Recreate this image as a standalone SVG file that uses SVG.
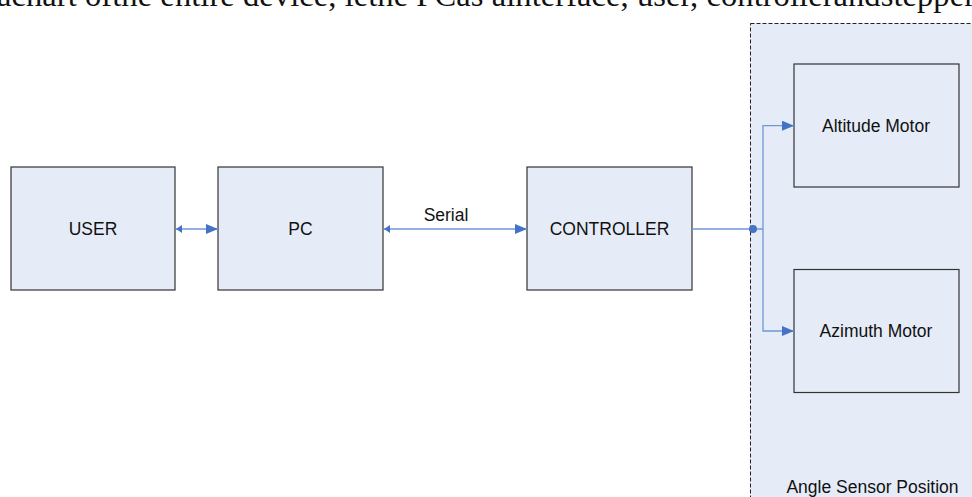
<svg xmlns="http://www.w3.org/2000/svg" width="972" height="497" viewBox="0 0 972 497">
<style>
.node{fill:#e6ecf7;stroke:#333;stroke-width:1.2}
.lbl{font-family:"Liberation Sans",Arial,sans-serif;font-size:17.5px;fill:#111;text-anchor:middle}
.line{fill:none;stroke:#6f97d6;stroke-width:1.3}
.cap{font-family:"Liberation Serif","Times New Roman",serif;font-size:32.5px;fill:#111}
</style>
<defs>
<marker id="big" viewBox="0 0 12 10" refX="12" refY="5" markerWidth="12" markerHeight="10" markerUnits="userSpaceOnUse" orient="auto">
<path d="M0,0 L12,5 L0,10 Z" fill="#4472c4"/>
</marker>
<marker id="small" viewBox="0 0 6 8" refX="0" refY="4" markerWidth="6" markerHeight="8" markerUnits="userSpaceOnUse" orient="auto">
<path d="M6,0 L0,4 L6,8 Z" fill="#4472c4"/>
</marker>
</defs>
<rect width="972" height="497" fill="#fff"/>
<text class="cap" x="-3" y="6" textLength="978" lengthAdjust="spacing">achart ofthe entire device, lethe PCas ainterface, user, controllerandstepper</text>
<g id="sensor-group">
<rect x="750.5" y="23.5" width="240" height="490" fill="#e6ecf7" stroke="#222" stroke-width="1" stroke-dasharray="4,2"/>
<text class="lbl" x="872.5" y="493">Angle Sensor Position</text>
</g>
<g id="user"><rect class="node" x="11" y="167" width="164" height="123"/><text class="lbl" x="93" y="234.5">USER</text></g>
<g id="pc"><rect class="node" x="218" y="167" width="165" height="123"/><text class="lbl" x="300.5" y="234.5">PC</text></g>
<g id="controller"><rect class="node" x="527" y="167" width="165" height="123"/><text class="lbl" x="609.5" y="234.5">CONTROLLER</text></g>
<g id="altitude"><rect class="node" x="794" y="64" width="165" height="123"/><text class="lbl" x="876" y="132">Altitude Motor</text></g>
<g id="azimuth"><rect class="node" x="794" y="269.5" width="165" height="123"/><text class="lbl" x="876" y="337">Azimuth Motor</text></g>
<g id="connectors">
<line class="line" x1="176" y1="229" x2="218" y2="229" marker-start="url(#small)" marker-end="url(#big)"/>
<line class="line" x1="384" y1="229" x2="527" y2="229" marker-start="url(#small)" marker-end="url(#big)"/>
<text class="lbl" x="446" y="220.5">Serial</text>
<line class="line" x1="692" y1="229" x2="763" y2="229"/>
<circle cx="753" cy="229" r="4" fill="#4472c4"/>
<polyline class="line" points="763,229 763,125.7 794,125.7" marker-end="url(#big)"/>
<polyline class="line" points="763,229 763,331 794,331" marker-end="url(#big)"/>
</g>
</svg>
